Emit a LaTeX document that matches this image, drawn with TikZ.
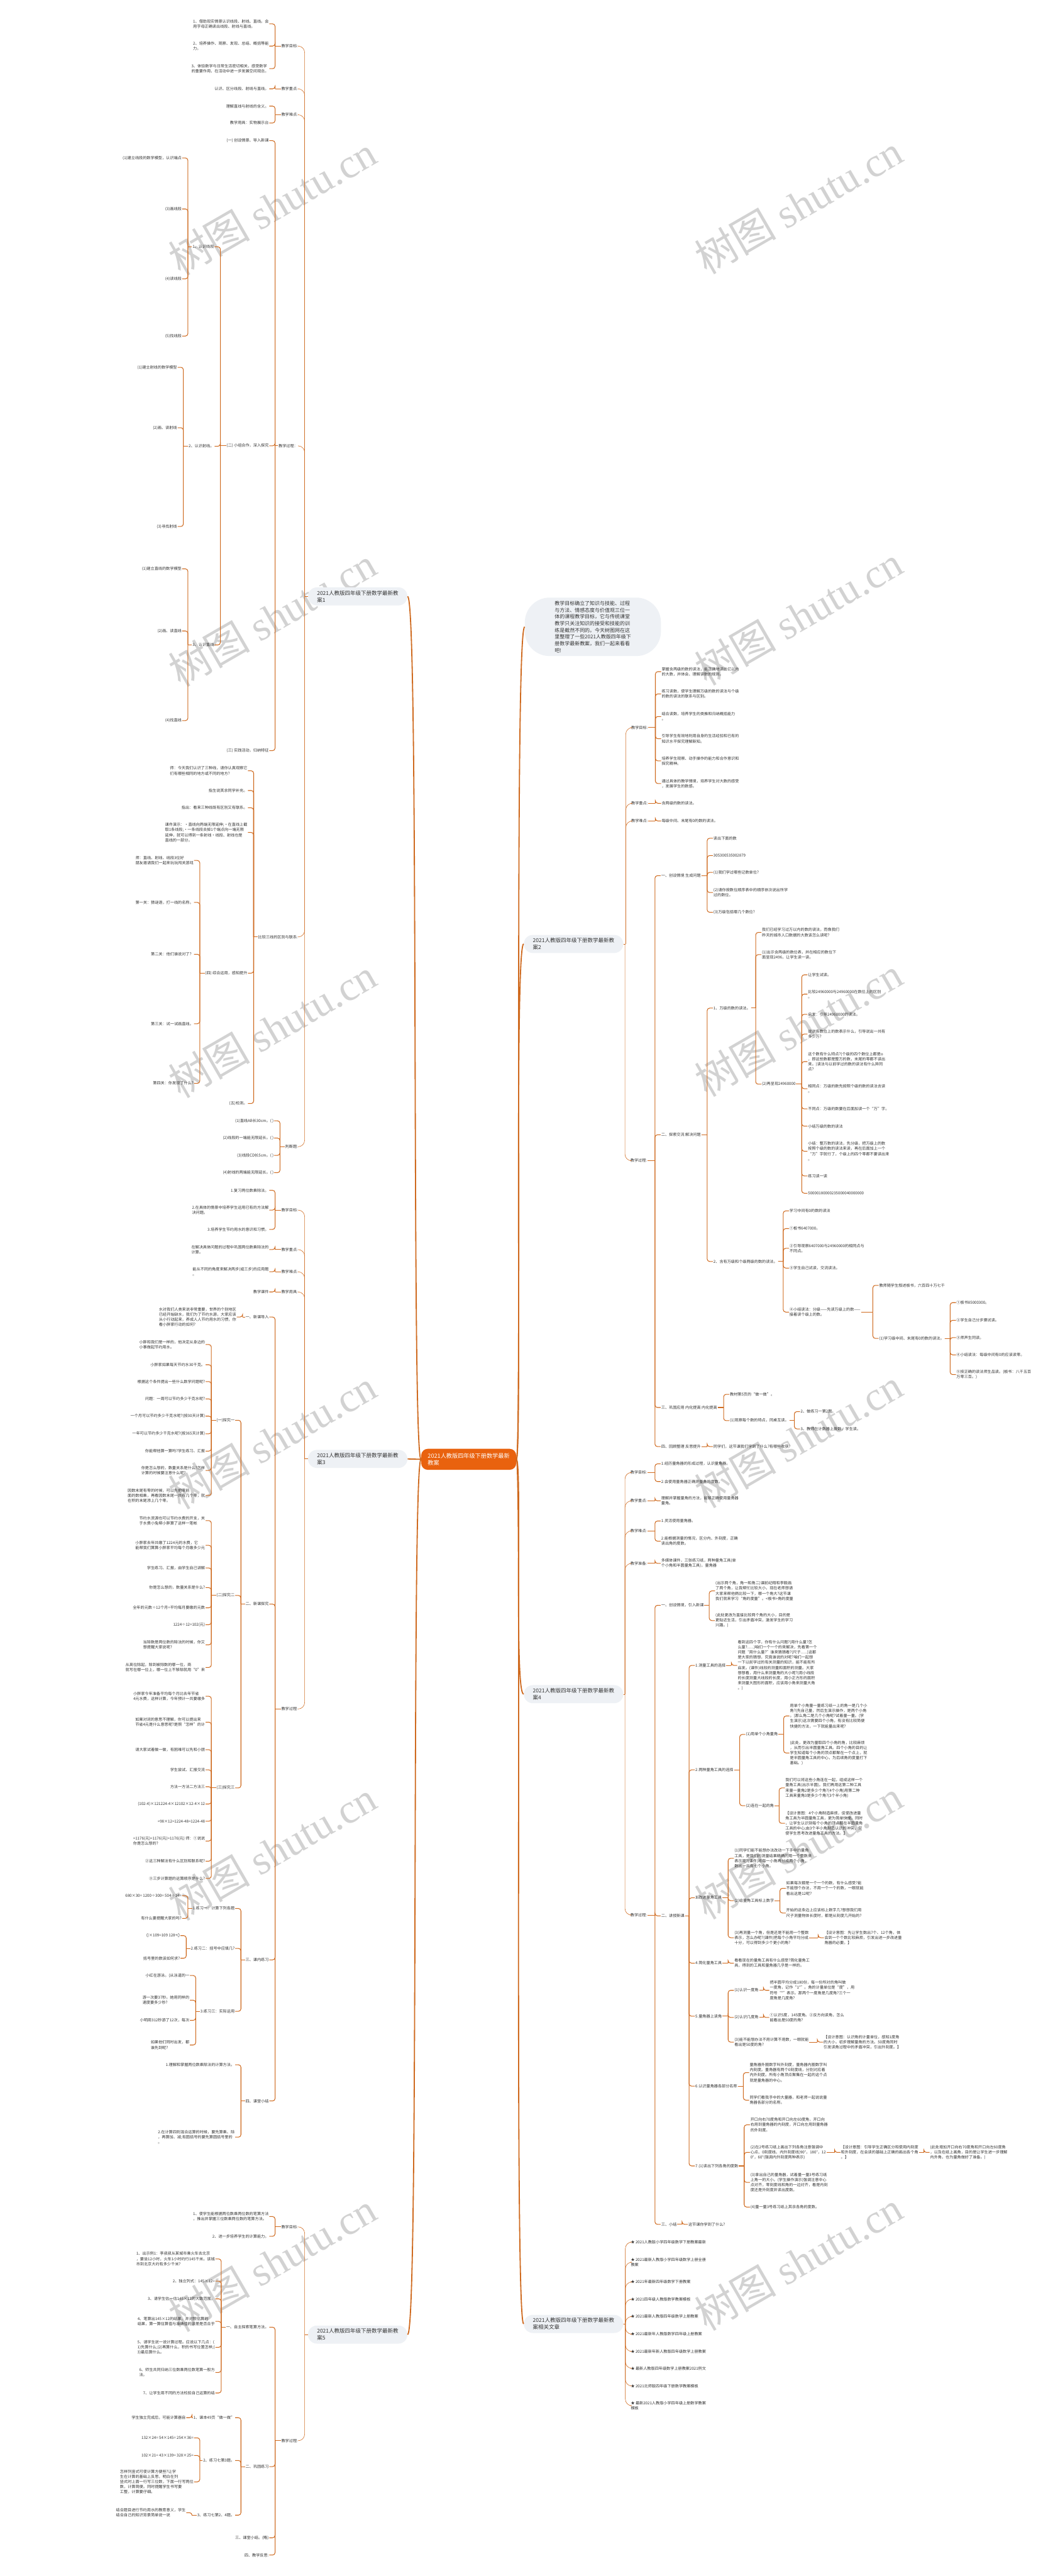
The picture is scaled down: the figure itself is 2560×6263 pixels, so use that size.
\documentclass[tikz,border=0pt]{standalone}
\usepackage{fontspec}
\setmainfont{Noto Sans CJK SC}
\newfontfamily\wmserif{Liberation Serif}
\definecolor{lc}{HTML}{CF6A1F}
\definecolor{bubfill}{HTML}{EEF1F5}
\definecolor{cfill}{HTML}{E9620E}
\definecolor{txt}{HTML}{333333}
\definecolor{wmc}{HTML}{D2D2D2}
\newcommand\ft{\fontsize{4.7pt}{6.25pt}\selectfont}
\newcommand\fbub{\fontsize{6.5pt}{8.5pt}\selectfont}
\newcommand\fdesc{\fontsize{6.1pt}{8.15pt}\selectfont}
\tikzset{
  ln/.style={anchor=east,align=left,font=\ft,text=txt,inner sep=0.5pt},
  rn/.style={anchor=west,align=left,font=\ft,text=txt,inner sep=0.5pt},
  con/.style={draw=lc,line width=0.8pt,rounded corners=3pt},
  tcon/.style={draw=lc,line width=0.45pt,rounded corners=8pt},
  mcon/.style={draw=lc,line width=1.4pt},
  bub/.style={fill=bubfill,rounded corners=11pt,align=left,font=\fbub,text=txt,minimum width=115.5pt,minimum height=22pt,inner xsep=11pt,inner ysep=2pt},
  wm/.style={text=wmc,font=\fontsize{50pt}{50pt}\selectfont,rotate=30,inner sep=0pt},
}
\newcommand\LC[2]{\path ([xshift=7pt]#2.east) coordinate (bb);\draw[con] (#1.west) -- (bb |- #1.west);\draw[con] (bb |- #1.west) |- (#2.east);}
\newcommand\RC[2]{\path ([xshift=-7pt]#2.west) coordinate (bb);\draw[con] (#1.east) -- (bb |- #1.east);\draw[con] (bb |- #1.east) |- (#2.west);}
\newcommand\LCt[2]{\path ([xshift=7.5pt]#2.east) coordinate (bb);\draw[tcon] (#1.west) -- (bb |- #1.west);\draw[tcon] (bb |- #1.west) |- (#2.east);}
\newcommand\RCt[2]{\path ([xshift=-6pt]#2.west) coordinate (bb);\draw[tcon] (#1.east) -- (bb |- #1.east);\draw[tcon] (bb |- #1.east) |- (#2.west);}
\begin{document}
\begin{tikzpicture}[x=0.5pt,y=-0.5pt]
\useasboundingbox (0,0) rectangle (2560,6263);
\fill[white] (0,0) rectangle (2560,6263);
% watermarks
\foreach \yy in {500,1500,2500,3500,4500,5500}{
  \node[wm] at (662,\yy) {树图 {\wmserif shutu.cn}};
  \node[wm] at (1942,\yy-3) {树图 {\wmserif shutu.cn}};
}
% central
\node[fill=cfill,rounded corners=8pt,text=white,align=left,font=\fontsize{7pt}{9pt}\selectfont,inner xsep=8pt,inner ysep=5pt] (C) at (1140,3548) {2021人教版四年级下册数学最新\\教案};
% description
\node[fill=bubfill,rounded corners=30pt,align=left,font=\fdesc,text=txt,minimum width=165.5pt,minimum height=71pt] (D) at (1442,1524) {教学目标确立了知识与技能、过程\\与方法、情感态度与价值观三位一\\体的课程教学目标，它与传统课堂\\教学只关注知识的接受和技能的训\\练是截然不同的。今天树图网在这\\里整理了一些2021人教版四年级下\\册数学最新教案，我们一起来看看\\吧!};
% bubbles
\node[bub] (B1) at (870,1450) {2021人教版四年级下册数学最新教\\案1};
\node[bub] (B3) at (870,3547) {2021人教版四年级下册数学最新教\\案3};
\node[bub] (B5) at (870,5676) {2021人教版四年级下册数学最新教\\案5};
\node[bub] (B2) at (1395,2295) {2021人教版四年级下册数学最新教\\案2};
\node[bub] (B4) at (1395,4119) {2021人教版四年级下册数学最新教\\案4};
\node[bub] (B6) at (1395,5650) {2021人教版四年级下册数学最新教\\案相关文章};
\draw[mcon] (C.west) .. controls (1000,3548) and (1020,1450) .. (B1.east);
\draw[mcon] (C.west) -- (B3.east);
\draw[mcon] (C.west) .. controls (1000,3548) and (1020,5676) .. (B5.east);
\draw[mcon] (C.east) .. controls (1270,3548) and (1250,1524) .. (D.west);
\draw[mcon] (C.east) .. controls (1270,3548) and (1250,2295) .. (B2.west);
\draw[mcon] (C.east) .. controls (1270,3548) and (1250,4119) .. (B4.west);
\draw[mcon] (C.east) .. controls (1270,3548) and (1250,5650) .. (B6.west);
%================ Branch 1
\node[ln] (a1) at (726,112) {教学目标:};
\node[ln] (a2) at (726,216) {教学重点:};
\node[ln] (a3) at (726,279) {教学难点:};
\node[ln] (a4) at (726,1084) {教学过程：};
\node[ln] (a5) at (726,2278) {比较三线的区别与联系:};
\node[ln] (a6) at (726,2788) {判断题:};
\foreach \c in {a1,a2,a3,a4,a5,a6}{\LCt{B1}{\c}}
\node[ln] (a11) at (655,58) {1、借助现实情景认识线段、射线、直线。会\\用字母正确读出线段、射线与直线。};
\node[ln] (a12) at (655,112) {2、培养操作、观察、发现、总结、概括等能\\力。};
\node[ln] (a13) at (655,167) {3、体验数学与日常生活密切相关，感受数学\\的重要作用，在活动中进一步发展空间观念。};
\foreach \c in {a11,a12,a13}{\LC{a1}{\c}}
\node[ln] (a21) at (655,216) {认识、区分线段、射线与直线。};
\LC{a2}{a21}
\node[ln] (a31) at (655,258) {理解直线与射线的含义。};
\node[ln] (a32) at (655,299) {教学用具：实物展示台};
\foreach \c in {a31,a32}{\LC{a3}{\c}}
\node[ln] (a41) at (655,342) {(一) 创设情景、导入新课};
\node[ln] (a42) at (655,1084) {(二) 小组合作，深入探究};
\node[ln] (a43) at (655,1825) {(三) 实践活动，归纳特征};
\foreach \c in {a41,a42,a43}{\LC{a4}{\c}}
\node[ln] (a421) at (522,600) {1、认识线段};
\node[ln] (a422) at (522,1085) {2、认识射线。};
\node[ln] (a423) at (522,1568) {3、认识直线};
\foreach \c in {a421,a422,a423}{\LC{a42}{\c}}
\node[ln] (a4211) at (443,384) {(1)建立线段的数学模型，认识端点};
\node[ln] (a4213) at (443,508) {(3)画线段};
\node[ln] (a4214) at (443,678) {(4)读线段};
\node[ln] (a4215) at (443,817) {(5)找线段};
\foreach \c in {a4211,a4213,a4214,a4215}{\LC{a421}{\c}}
\node[ln] (a4221) at (432,893) {(1)建立射线的数学模型};
\node[ln] (a4222) at (432,1040) {(2)画、读射线};
\node[ln] (a4223) at (432,1280) {(3)寻找射线};
\foreach \c in {a4221,a4222,a4223}{\LC{a422}{\c}}
\node[ln] (a4231) at (443,1383) {(1)建立直线的数学模型};
\node[ln] (a4232) at (443,1534) {(2)画、读直线};
\node[ln] (a4234) at (443,1752) {(4)找直线};
\foreach \c in {a4231,a4232,a4234}{\LC{a423}{\c}}
\node[ln] (a51) at (603,1874) {师：今天我们认识了三种线，请你认真观察它\\们有哪些相同的地方或不同的地方？};
\node[ln] (a52) at (603,1922) {指生说其余同学补充。};
\node[ln] (a53) at (603,1964) {指出：看来三种线既有区别又有联系。};
\node[ln] (a54) at (603,2024) {课件演示：·直线向两端无限延伸;·在直线上截\\取1条线段;·一条线段去掉1个端点向一端无限\\延伸，就可以得到一条射线·线段、射线也是\\直线的一部分。};
\node[ln] (a55) at (603,2366) {(四) 综合运用，感知提升};
\node[ln] (a56) at (603,2683) {(五)检测。};
\foreach \c in {a51,a52,a53,a54,a55,a56}{\LC{a5}{\c}}
\node[ln] (a551) at (472,2092) {师：直线、射线、线段3位好\\朋友邀请我们一起来玩玩闯关游戏};
\node[ln] (a552) at (472,2194) {第一关：猜谜语，打一线的名称。};
\node[ln] (a553) at (472,2320) {第二关：他们谁说对了？};
\node[ln] (a554) at (472,2489) {第三关：试一试画直线。};
\node[ln] (a555) at (472,2634) {第四关：你发现了什么?};
\foreach \c in {a551,a552,a553,a554,a555}{\LC{a55}{\c}}
\node[ln] (a61) at (667,2725) {(1)直线AB长30cm。( )};
\node[ln] (a62) at (667,2767) {(2)线段的一端能无限延长。( )};
\node[ln] (a63) at (667,2809) {(3)线段CD长5cm。( )};
\node[ln] (a64) at (667,2851) {(4)射线的两端能无限延长。( )};
\foreach \c in {a61,a62,a63,a64}{\LC{a6}{\c}}
%================ Branch 3
\node[ln] (c1) at (726,2942) {教学目标:};
\node[ln] (c2) at (726,3038) {教学重点:};
\node[ln] (c3) at (726,3092) {教学难点:};
\node[ln] (c4) at (726,3141) {教学用具:};
\node[ln] (c5) at (726,4155) {教学过程:};
\foreach \c in {c1,c2,c3,c4,c5}{\LCt{B3}{\c}}
\node[ln] (c11) at (655,2894) {1.复习两位数乘除法。};
\node[ln] (c12) at (655,2942) {2.在具体的情景中培养学生运用已有的方法解\\决问题。};
\node[ln] (c13) at (655,2989) {3.培养学生节约用水的意识和习惯。};
\foreach \c in {c11,c12,c13}{\LC{c1}{\c}}
\node[ln] (c21) at (655,3038) {在解决具体问题的过程中巩固两位数乘除法的\\计算。};
\LC{c2}{c21}
\node[ln] (c31) at (655,3092) {能从不同的角度来解决两步(或三步)的应用题\\。};
\LC{c3}{c31}
\node[ln] (c41) at (655,3141) {教学课件};
\LC{c4}{c41}
\node[ln] (c51) at (655,3202) {一、新课导入};
\node[ln] (c52) at (655,3900) {二、新课探究};
\node[ln] (c53) at (655,4765) {三、课内练习};
\node[ln] (c54) at (655,5108) {四、课堂小结};
\foreach \c in {c51,c52,c53,c54}{\LC{c5}{\c}}
\node[ln] (c511) at (576,3202) {水对我们人类来说非常重要，世界的个别地区\\已经开始缺水，我们为了节约水源，大家应该\\从小行动起来，养成人人节约用水的习惯，你\\看小胖家行动的如何?};
\LC{c51}{c511}
\node[ln] (c521) at (572,3453) {(一)探究一};
\node[ln] (c522) at (572,3879) {(二)探究二};
\node[ln] (c523) at (572,4347) {(三)探究三};
\foreach \c in {c521,c522,c523}{\LC{c52}{\c}}
\node[ln] (p1) at (500,3269) {小胖和我们是一样的，他决定从身边的\\小事做起节约用水。};
\node[ln] (p2) at (500,3318) {小胖家如果每天节约水30千克。};
\node[ln] (p3) at (500,3359) {根据这个条件提出一些什么数学问题呢?};
\node[ln] (p4) at (500,3401) {问题：一周可以节约多少千克水呢?};
\node[ln] (p5) at (500,3443) {一个月可以节约多少千克水呢?(按30天计算)};
\node[ln] (p6) at (500,3486) {一年可以节约多少千克水呢?(按365天计算)};
\node[ln] (p7) at (500,3528) {你能帮他算一算吗?学生练习、汇报};
\node[ln] (p8) at (500,3575) {你是怎么想的，数量关系是什么?怎样\\计算的时候要注意什么呢?};
\node[ln] (p9) at (500,3636) {因数末尾有零的时候，可以先把零前\\面的数相乘，再看因数末尾一共有几个零，就\\在积的末尾添上几个零。};
\foreach \c in {p1,p2,p3,p4,p5,p6,p7,p8,p9}{\LC{c521}{\c}}
\node[ln] (q1) at (500,3697) {节约水资源也可以节约水费的开支，关\\于水费小兔帮小胖算了这样一笔帐};
\node[ln] (q2) at (500,3757) {小胖家去年共缴了1224元的水费，它\\能帮我们算算小胖家平均每个月缴多少元};
\node[ln] (q3) at (500,3812) {学生练习、汇报，由学生自己讲解};
\node[ln] (q4) at (500,3860) {你是怎么想的，数量关系是什么?};
\node[ln] (q5) at (500,3909) {全年的元数÷12个月=平均每月要缴的元数};
\node[ln] (q6) at (500,3950) {1224÷12=102(元)};
\node[ln] (q7) at (500,3999) {当除数是两位数的除法的时候，你又\\想提醒大家说呢?};
\node[ln] (q8) at (500,4054) {从高位除起，除到被除数的哪一位，商\\就写在哪一位上，哪一位上不够除就用“0”来};
\foreach \c in {q1,q2,q3,q4,q5,q6,q7,q8}{\LC{c522}{\c}}
\node[ln] (r1) at (500,4124) {小胖家今年准备平均每个月比去年节省\\4元水费，这样计算，今年预计一共要缴多};
\node[ln] (r2) at (500,4187) {如果对词的意思不理解，你可以提出来\\节省4元是什么意思呢?是照“怎样”的计};
\node[ln] (r3) at (500,4254) {请大家试着做一做，有困难可以先和小朋};
\node[ln] (r4) at (500,4303) {学生尝试、汇报交流};
\node[ln] (r5) at (500,4344) {方法一方法二方法三};
\node[ln] (r6) at (500,4386) {(102-4)×121224-4×12102×12-4×12};
\node[ln] (r7) at (500,4428) {=98×12=1224-48=1224-48};
\node[ln] (r8) at (500,4476) {=1176(元)=1176(元)=1176(元) 师：①说说\\你是怎么想的?};
\node[ln] (r9) at (500,4525) {②这三种解法有什么区别和联系呢?};
\node[ln] (r10) at (500,4567) {③三步计算题的运算顺序是什么?};
\foreach \c in {r1,r2,r3,r4,r5,r6,r7,r8,r9,r10}{\LC{c523}{\c}}
\node[ln] (c531) at (572,4640) {1.练习一：计算下列各题};
\node[ln] (c532) at (572,4737) {2.练习二：括号中应填几?};
\node[ln] (c533) at (572,4890) {3.练习三：实际运用};
\foreach \c in {c531,c532,c533}{\LC{c53}{\c}}
\node[ln] (s1) at (443,4609) {680×30= 1200÷300= 504÷14=};
\node[ln] (s2) at (443,4664) {有什么要提醒大家的吗?};
\foreach \c in {s1,s2}{\LC{c531}{\c}}
\node[ln] (s3) at (439,4706) {()×109=109 128+()};
\node[ln] (s4) at (439,4761) {括号里的数该如何求?};
\foreach \c in {s3,s4}{\LC{c532}{\c}}
\node[ln] (s5) at (462,4803) {小红在游泳。(从泳道的一};
\node[ln] (s6) at (462,4863) {游一次要37秒。她用同样的\\速度要多少秒?};
\node[ln] (s7) at (462,4912) {小明用312秒游了12次，每次};
\node[ln] (s8) at (462,4972) {如果他们同时出发，都\\谁先到呢?};
\foreach \c in {s5,s6,s7,s8}{\LC{c533}{\c}}
\node[ln] (c541) at (572,5020) {1.理解和掌握两位数乘除法的计算方法。};
\node[ln] (c542) at (572,5196) {2.在计算四则混合运算的时候，要先算乘、除\\，再算加、减;有圆括号的要先算圆括号里的\\。};
\foreach \c in {c541,c542}{\LC{c54}{\c}}
%================ Branch 5
\node[ln] (e1) at (726,5414) {教学目标:};
\node[ln] (e2) at (726,5934) {教学过程:};
\foreach \c in {e1,e2}{\LCt{B5}{\c}}
\node[ln] (e11) at (655,5389) {1、使学生能根据两位数乘两位数的笔算方法\\，推出并掌握三位数乘两位数的笔算方法。};
\node[ln] (e12) at (655,5437) {2、进一步培养学生的计算能力。};
\foreach \c in {e11,e12}{\LC{e1}{\c}}
\node[ln] (e21) at (655,5658) {一、自主探索笔算方法。};
\node[ln] (e22) at (655,5997) {二、巩固练习};
\node[ln] (e23) at (655,6170) {三、课堂小结。(略)};
\node[ln] (e24) at (655,6212) {四、教学反思:};
\foreach \c in {e21,e22,e23,e24}{\LC{e2}{\c}}
\node[ln] (t1) at (524,5492) {1、出示例1：李叔叔从某城市乘火车去北京\\，要坐12小时，火车1小时约行145千米。该城\\市到北京大约有多少千米?};
\node[ln] (t2) at (524,5546) {2、独立列式：145×12=};
\node[ln] (t3) at (524,5589) {3、请学生估一估145×12的大致范围。};
\node[ln] (t4) at (524,5644) {4、笔算出145×12的结果，并对照估算的\\结果，算一算估算值与准确值的误差是否合乎};
\node[ln] (t5) at (524,5707) {5、请学生说一说计算过程。应说以下几点：(\\1)先算什么;(2)再算什么，积的书写位置怎样;(\\3)最后算什么。};
\node[ln] (t6) at (524,5768) {6、师生共同归纳三位数乘两位数笔算一般方\\法。};
\node[ln] (t7) at (524,5818) {7、让学生用不同的方法检验自己运算的结};
\foreach \c in {t1,t2,t3,t4,t5,t6,t7}{\LC{e21}{\c}}
\node[ln] (e221) at (572,5878) {1、课本49页“做一做”};
\node[ln] (e222) at (572,5982) {2、练习七第3题。};
\node[ln] (e223) at (572,6115) {3、练习七第2、4题。};
\foreach \c in {e221,e222,e223}{\LC{e22}{\c}}
\node[ln] (u1) at (453,5878) {学生独立完成后，可能计算器自};
\LC{e221}{u1}
\node[ln] (u2) at (472,5927) {132×24= 54×145= 254×36=};
\node[ln] (u3) at (472,5970) {102×21= 43×139= 328×25=};
\node[ln] (u4) at (472,6034) {怎样列竖式可使计算方便些?让学\\生在计算的基础上反思，明白在列\\竖式时上面一行写三位数，下面一行写两位\\数，计算简便。同时提醒学生书写要\\工整，计算要仔细。};
\foreach \c in {u2,u3,u4}{\LC{e222}{\c}}
\node[ln] (u5) at (453,6109) {结合题目进行节约用水的教育意义，学生\\结合自己的知识背景简单说一说};
\LC{e223}{u5}
%================ Branch 2
\node[rn] (b1) at (1534,1769) {教学目标:};
\node[rn] (b2) at (1534,1953) {教学重点:};
\node[rn] (b3) at (1534,1996) {教学难点:};
\node[rn] (b4) at (1532,2822) {教学过程:};
\foreach \c in {b1,b2,b3,b4}{\RCt{B2}{\c}}
\node[rn] (b11) at (1608,1633) {掌握含两级的数的读法，能正确地读出亿以内\\的大数，并体会、理解读数的规则。};
\node[rn] (b12) at (1608,1687) {练习读数，使学生理解万级的数的读法与个级\\的数的读法的联系与区别。};
\node[rn] (b13) at (1608,1742) {结合读数，培养学生的类推和归纳概括能力\\。};
\node[rn] (b14) at (1608,1796) {引导学生有效地利用自身的生活经验和已有的\\知识水平探究理解新知。};
\node[rn] (b15) at (1608,1850) {培养学生观察、动手操作的能力和合作意识和\\探究精神。};
\node[rn] (b16) at (1608,1905) {通过具体的教学情境，培养学生对大数的感受\\，发展学生的数感。};
\foreach \c in {b11,b12,b13,b14,b15,b16}{\RC{b1}{\c}}
\node[rn] (b21) at (1608,1953) {含两级的数的读法。};
\RC{b2}{b21}
\node[rn] (b31) at (1608,1996) {每级中间、末尾有0的数的读法。};
\RC{b3}{b31}
\node[rn] (b41) at (1607,2129) {一、创设情境 生成问题};
\node[rn] (b42) at (1607,2759) {二、探索交流 解决问题};
\node[rn] (b43) at (1607,3422) {三、巩固应用 内化提高 内化提高};
\node[rn] (b44) at (1607,3517) {四、回顾整理 反思提升};
\foreach \c in {b41,b42,b43,b44}{\RC{b4}{\c}}
\node[rn] (b411) at (1734,2038) {读出下面的数};
\node[rn] (b412) at (1734,2080) {305300535002879};
\node[rn] (b413) at (1734,2121) {(1)我们学过哪些记数单位?};
\node[rn] (b414) at (1734,2170) {(2)请你按数位顺序表中的顺序依次说出所学\\过的数位。};
\node[rn] (b415) at (1734,2218) {(3)万级包括哪几个数位?};
\foreach \c in {b411,b412,b413,b414,b415}{\RC{b41}{\c}}
\node[rn] (b421) at (1734,2451) {1、万级的数的读法。};
\node[rn] (b422) at (1734,3067) {2、含有万级和个级两级的数的读法。};
\foreach \c in {b421,b422}{\RC{b42}{\c}}
\node[rn] (g1) at (1852,2267) {我们已经学习过万以内的数的读法，而像我们\\昨天的城市人口数据的大数该怎么读呢?};
\node[rn] (g2) at (1852,2321) {(1)出示含两级的数位表，并在相应的数位下\\面呈现2496，让学生读一读。};
\node[rn] (g3) at (1852,2636) {(2)再呈现24960000};
\foreach \c in {g1,g2,g3}{\RC{b421}{\c}}
\node[rn] (h1) at (1964,2370) {让学生试读。};
\node[rn] (h2) at (1964,2417) {比较24960000与24960000在数位上的区别\\。};
\node[rn] (h3) at (1964,2466) {启发：引导24960000的读法。};
\node[rn] (h4) at (1964,2514) {说说各数位上的数表示什么，引导说出一共有\\多少万?};
\node[rn] (h5) at (1964,2581) {这个数有什么特点?(个级的四个数位上都是o\\，即这些数都是整万的数，末尾的零都不读出\\来。)读法与以前学过的数的读法有什么异同\\点?};
\node[rn] (h6) at (1964,2647) {相同点：万级的数先按照个级的数的读法去读\\。};
\node[rn] (h7) at (1964,2696) {不同点：万级的数要在后面加读一个“万”字。};
\node[rn] (h8) at (1964,2738) {小结万级的数的读法};
\node[rn] (h9) at (1964,2799) {小结：整万数的读法，先分级，把万级上的数\\按照个级的数的读法来读，再在后面加上一个\\“万”字就行了，个级上的四个零都不要读出来\\。};
\node[rn] (h10) at (1964,2859) {练习读一读};
\node[rn] (h11) at (1964,2901) {50000180000235000040000000};
\foreach \c in {h1,h2,h3,h4,h5,h6,h7,h8,h9,h10,h11}{\RC{g3}{\c}}
\node[rn] (i1) at (1919,2944) {学习中间有0的数的读法};
\node[rn] (i2) at (1919,2987) {①板书6407000。};
\node[rn] (i3) at (1919,3035) {②引导观察6407000与24960000的相同点与\\不同点。};
\node[rn] (i4) at (1919,3083) {③学生自己试读，交流读法。};
\node[rn] (i5) at (1919,3190) {④小结读法：分级——先读万级上的数——\\接着读个级上的数。};
\foreach \c in {i1,i2,i3,i4,i5}{\RC{b422}{\c}}
\node[rn] (j1) at (2137,3125) {教师随学生叙述板书，六百四十万七千};
\node[rn] (j2) at (2137,3254) {(1)学习级中间、末尾有0的数的读法。};
\foreach \c in {j1,j2}{\RC{i5}{\c}}
\node[rn] (k1) at (2325,3167) {①板书85000300。};
\node[rn] (k2) at (2325,3210) {②学生自己分步骤试读。};
\node[rn] (k3) at (2325,3252) {③师声生同读。};
\node[rn] (k4) at (2325,3294) {④小结读法：每级中间有0的应该读零。};
\node[rn] (k5) at (2325,3342) {⑤按正确的读法师生品读。(板书：八千五百\\万零三百。)};
\foreach \c in {k1,k2,k3,k4,k5}{\RC{j2}{\c}}
\node[rn] (b431) at (1774,3390) {教材第5页的“做一做”。};
\node[rn] (b432) at (1774,3454) {(1)观察每个数的特点，同桌互读。};
\foreach \c in {b431,b432}{\RC{b43}{\c}}
\node[rn] (m1) at (1946,3432) {2、做练习一第2题。};
\node[rn] (m2) at (1946,3474) {3、教师在计数器上拨数，学生读。};
\foreach \c in {m1,m2}{\RC{b432}{\c}}
\node[rn] (b441) at (1734,3517) {同学们，这节课我们学到了什么?有哪些收获?};
\RC{b44}{b441}
%================ Branch 4
\node[rn] (d1) at (1532,3580) {教学目标:};
\node[rn] (d2) at (1532,3649) {教学重点:};
\node[rn] (d3) at (1532,3722) {教学难点:};
\node[rn] (d4) at (1532,3801) {教学准备:};
\node[rn] (d5) at (1532,4656) {教学过程:};
\foreach \c in {d1,d2,d3,d4,d5}{\RCt{B4}{\c}}
\node[rn] (d11) at (1607,3559) {1.经历量角器的形成过程，认识量角器。};
\node[rn] (d12) at (1607,3602) {2.会使用量角器正确测量角的度数。};
\foreach \c in {d11,d12}{\RC{d1}{\c}}
\node[rn] (d21) at (1607,3649) {理解并掌握量角的方法，能够正确使用量角器\\量角。};
\RC{d2}{d21}
\node[rn] (d31) at (1607,3698) {1.灵活使用量角器。};
\node[rn] (d32) at (1607,3747) {2.能根据测量的情况，区分内、外刻度，正确\\读出角的度数。};
\foreach \c in {d31,d32}{\RC{d3}{\c}}
\node[rn] (d41) at (1607,3801) {多媒体课件，三张练习纸，两种量角工具(单\\个小角和半圆量角工具)，量角器};
\RC{d4}{d41}
\node[rn] (d51) at (1607,3903) {一、创设情境，引入新课};
\node[rn] (d52) at (1607,4658) {二、讲授新课};
\node[rn] (d53) at (1607,5408) {三、小结};
\foreach \c in {d51,d52,d53}{\RC{d5}{\c}}
\node[rn] (d511) at (1739,3868) {(出示两个角，角一和角二)课前纪翔和李毅画\\了两个角，让我帮忙比较大小，现在老师想请\\大家来帮他俩比较一下，哪一个角大?这节课\\我们就来学习“角的度量”。<板书>角的度量};
\node[rn] (d512) at (1739,3940) {(此处更改为直接比较两个角的大小，目的是\\更贴近生活，引出矛盾冲突，激发学生的学习\\兴趣。)};
\foreach \c in {d511,d512}{\RC{d51}{\c}}
\node[rn] (n1) at (1690,4049) {1.测量工具的选择};
\node[rn] (n2) at (1690,4303) {2.两种量角工具的选择};
\node[rn] (n3) at (1690,4614) {3.改进量角工具};
\node[rn] (n4) at (1690,4773) {4.简化量角工具};
\node[rn] (n5) at (1690,4902) {5.量角器上读角};
\node[rn] (n6) at (1690,5072) {6.认识量角器各部分名称};
\node[rn] (n7) at (1690,5266) {7.(1)读出下列各角的度数};
\foreach \c in {n1,n2,n3,n4,n5,n6,n7}{\RC{d52}{\c}}
\node[rn] (n11) at (1793,4049) {看到这四个字，你有什么问题?(用什么量?怎\\么量?......)咱们一个一个的来解决，先看第一个\\问题“用什么量?”谁来猜猜看?(尺子......)这都\\是大家的猜想，究竟谁说的对呢?咱们一起想\\一下以前学过的有关测量的知识，能不能有所\\启发。(课件)线段的测量和面积的测量。大家\\想想看，用什么来测量角的大小呢?(用小线段\\的长度测量大线段的长度，用小正方形的面积\\来测量大图形的面积，应该用小角来测量大角\\。)};
\RC{n1}{n11}
\node[rn] (n21) at (1813,4217) {(1)用单个小角量角};
\node[rn] (n22) at (1813,4390) {(2)连在一起的角};
\foreach \c in {n21,n22}{\RC{n2}{\c}}
\node[rn] (n211) at (1920,4172) {用单个小角量一量练习纸一上的角一是几个小\\角?(先自己量，然后生演示操作，是两个小角\\。)那么角二是几个小角呢?试着量一量。(学\\生演示)这次需要四个小角，有没有比较简便\\快捷的方法，一下就能量出来呢?};
\node[rn] (n212) at (1920,4262) {(此处，更改为量取四个小角的角，比较麻烦\\，从而引出半圆量角工具。四个小角的目的让\\学生知道每个小角的顶点都聚在一个点上，就\\是半圆量角工具的中心，为后续角的度量打下\\基础。)};
\foreach \c in {n211,n212}{\RC{n21}{\c}}
\node[rn] (n221) at (1909,4347) {我们可以将这些小角连在一起，组成这样一个\\量角工具(出示半圆)。我们再用这第二种工具\\来量一量角2是多少个角?(4个小角)用第二种\\工具来量角3是多少个角?(3个半小角)};
\node[rn] (n222) at (1909,4433) {【设计意图：4个小角制造麻烦，促使改进量\\角工具为半圆量角工具，更为简单快捷。同时\\，让学生认识到每个小角的顶点都在半圆量角\\工具的中心;由3个半小角制造认识的冲突，促\\使学生思考改进量角工具的方法。】};
\foreach \c in {n221,n222}{\RC{n22}{\c}}
\node[rn] (n31) at (1785,4518) {(1)同学们能不能想办法改动一下手中的量角\\工具，是我们的测量结果精确的用一个整数来\\表示呢?(课件)将每一小角再分成两个小角，\\数出一共有七个小角。};
\node[rn] (n32) at (1785,4621) {(2)给量角工具标上数字};
\node[rn] (n33) at (1785,4711) {(3)再测量一个角，但是还是不能用一个整数\\表示，怎么办呢?(课件)把每个小角平均分成\\十分，可以得到多少个更小的角?};
\foreach \c in {n31,n32,n33}{\RC{n3}{\c}}
\node[rn] (n321) at (1911,4591) {如果每次都是一个一个的数，有什么感受?能\\不能想个办法，不用一个一个的数，一眼就能\\看出这是12呢?};
\node[rn] (n322) at (1911,4651) {开始的这条边上应该标上数字几?想想我们用\\尺子测量物体长度时，都是从刻度几开始的?};
\foreach \c in {n321,n322}{\RC{n32}{\c}}
\node[rn] (n331) at (2004,4711) {【设计意图：先让学生数出7个、12个角，体\\会到一个个数比较麻烦，引发出进一步改进量\\角器的必要。】};
\RC{n33}{n331}
\node[rn] (n41) at (1785,4773) {看看现在的量角工具有什么感受?简化量角工\\具，得到的工具和量角器几乎是一样的。};
\RC{n4}{n41}
\node[rn] (n51) at (1785,4839) {(1)认识一度角};
\node[rn] (n52) at (1785,4905) {(2)认识几度角};
\node[rn] (n53) at (1785,4965) {(3)能不能想办法不用计算不用数，一眼就能\\看出是50度的角?};
\foreach \c in {n51,n52,n53}{\RC{n5}{\c}}
\node[rn] (n511) at (1871,4839) {把半圆平均分成180份，每一份所对的角叫做\\一度角，记作“1°”。角的计量单位是“度”，用\\符号“°”表示。那两个一度角是几度角?三个一\\度角是几度角?};
\RC{n51}{n511}
\node[rn] (n521) at (1871,4905) {①认识5度，145度角。②反方向读角，怎么\\能看出是50度的角?};
\RC{n52}{n521}
\node[rn] (n531) at (2002,4965) {【设计意图：认识角的计量单位，感知1度角\\的大小，初步理解量角的方法。50度角同时\\引发读角过程中的矛盾冲突，引出外刻度。】};
\RC{n53}{n531}
\node[rn] (n61) at (1822,5039) {量角器外圈数字叫外刻度，量角器内圈数字叫\\内刻度。量角器有两个0刻度线，分别对应着\\内外刻度。所有小角顶点聚集在一起的这个点\\就是量角器的中心。};
\node[rn] (n62) at (1822,5106) {同学们看我手中的大量器，和老师一起说说量\\角器各部分的名称。};
\foreach \c in {n61,n62}{\RC{n6}{\c}}
\node[rn] (n71) at (1824,5166) {开口向右70度角和开口向左60度角，开口向\\右用到量角器的内刻度，开口向左用到量角器\\的外刻度。};
\node[rn] (n72) at (1824,5233) {(2)在2号练习纸上画出下列各角注意强调中\\心点、0刻度线、内外刻度线)90°，180°，12\\0°，60°(强调内外刻度两种表示)};
\node[rn] (n73) at (1824,5306) {(3)拿出自己的量角器，试着量一量3号练习纸\\上角一的大小。(学生操作演示)强调注意中心\\点对齐，零刻度线和角的一边对齐，看是内刻\\度还是外刻度并读出度数。};
\node[rn] (n74) at (1824,5366) {(4)量一量3号练习纸上其余各角的度数。};
\foreach \c in {n71,n72,n73,n74}{\RC{n7}{\c}}
\node[rn] (n721) at (2044,5233) {【设计意图：引导学生正确区分和使用内刻度\\和外刻度，在会读的基础上正确的画出各个角\\。】};
\RC{n72}{n721}
\node[rn] (n722) at (2261,5233) {(此处增加开口向右70度角和开口向左60度角\\，以及在纸上画角，目的是让学生进一步理解\\内外角，也为量角做好了准备。)};
\RC{n721}{n722}
\node[rn] (d531) at (1673,5408) {这节课你学到了什么?};
\RC{d53}{d531}
%================ Branch 6
\node[rn] (f1) at (1533,5451) {★ 2021人教版小学四年级数学下册教案最新};
\node[rn] (f2) at (1533,5500) {★ 2021最新人教版小学四年级数学上册全册\\教案};
\node[rn] (f3) at (1533,5548) {★ 2021年最新四年级数学下册教案};
\node[rn] (f4) at (1533,5590) {★ 2021四年级人教版数学教案模板};
\node[rn] (f5) at (1533,5632) {★ 2021最新人教版四年级数学上册教案};
\node[rn] (f6) at (1533,5675) {★ 2021最新年人教版数学四年级上册教案};
\node[rn] (f7) at (1533,5717) {★ 2021最新年新人教版四年级数学上册教案};
\node[rn] (f8) at (1533,5758) {★ 最新人教版四年级数学上册教案2021例文};
\node[rn] (f9) at (1533,5801) {★ 2021北师版四年级下册数学教案模板};
\node[rn] (f10) at (1533,5849) {★ 最新2021人教版小学四年级上册数学教案\\模板};
\foreach \c in {f1,f2,f3,f4,f5,f6,f7,f8,f9,f10}{\RCt{B6}{\c}}
\end{tikzpicture}
\end{document}
